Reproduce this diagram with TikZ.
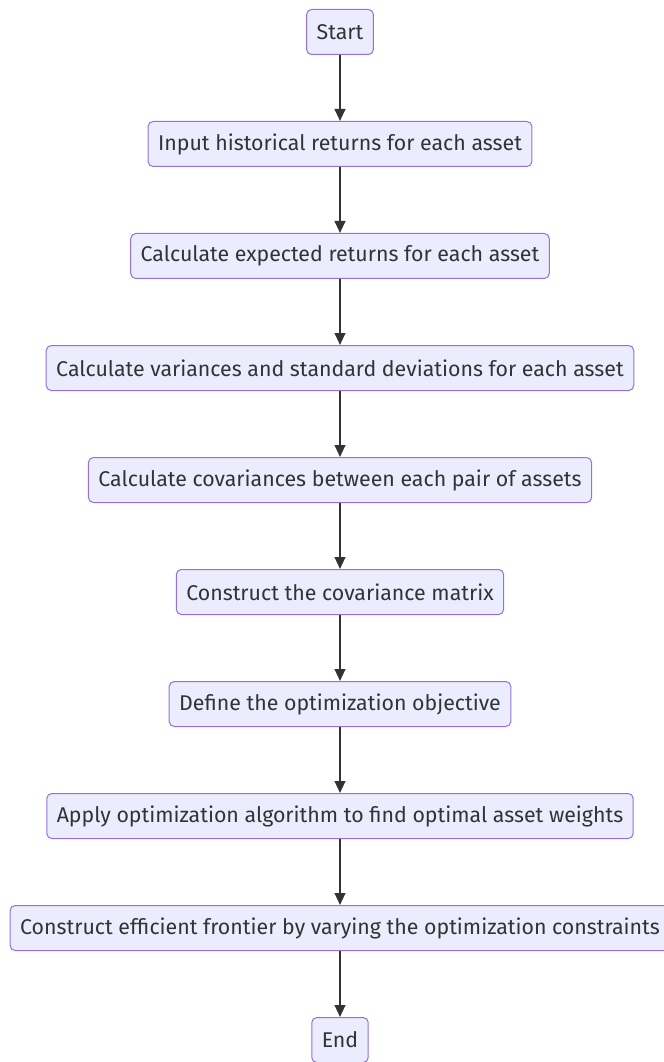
\documentclass[tikz,border=0pt]{standalone}
\usepackage{fontspec}
\setmainfont{Fira Sans}
\usepackage{tikz}
\usetikzlibrary{arrows.meta}
\definecolor{boxfill}{HTML}{ECECFF}
\definecolor{boxline}{HTML}{9370DB}
\definecolor{darkline}{HTML}{333333}

\begin{document}
\begin{tikzpicture}[x=0.75pt, y=-0.75pt, ->, >={Stealth[inset=0pt, length=9pt, width=8pt]}, darkline, line width=1.5pt, every node/.style={rectangle, rounded corners=3.75pt, draw=boxline, fill=boxfill, line width=0.75pt, minimum height=33.75pt, inner xsep=7.5pt, font=\fontsize{16}{18}\selectfont}]
\useasboundingbox (0,0) rectangle (663,1062);
\node (0) at (340,32) {Start};
\node (1) at (340,144) {Input historical returns for each asset};
\node (2) at (340,256) {Calculate expected returns for each asset};
\node (3) at (340,368) {Calculate variances and standard deviations for each asset};
\node (4) at (340,480) {Calculate covariances between each pair of assets};
\node (5) at (340,592) {Construct the covariance matrix};
\node (6) at (340,704) {Define the optimization objective};
\node (7) at (340,816) {Apply optimization algorithm to find optimal asset weights};
\node (8) at (340,928) {Construct efficient frontier by varying the optimization constraints};
\node (9) at (340,1040) {End};
\draw (0) -- (1);
\draw (1) -- (2);
\draw (2) -- (3);
\draw (3) -- (4);
\draw (4) -- (5);
\draw (5) -- (6);
\draw (6) -- (7);
\draw (7) -- (8);
\draw (8) -- (9);
\end{tikzpicture}
\end{document}
